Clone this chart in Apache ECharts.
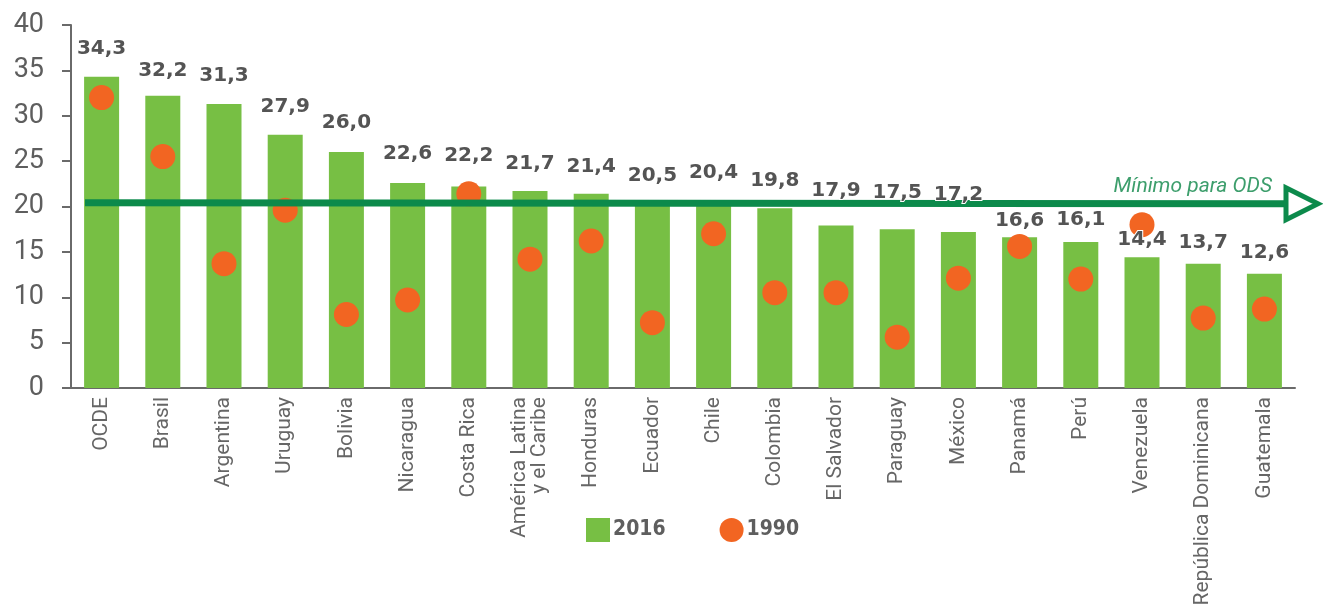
<!DOCTYPE html>
<html>
<head>
<meta charset="utf-8">
<script src="https://cdn.jsdelivr.net/npm/echarts@6/dist/echarts.min.js"></script>
<style>
html,body{margin:0;padding:0;background:#fff;}
#chart{width:1323px;height:611px;}
</style>
</head>
<body>
<div id="chart"></div>
<script>
const categories = ['OCDE','Brasil','Argentina','Uruguay','Bolivia','Nicaragua','Costa Rica','América Latina\ny el Caribe','Honduras','Ecuador','Chile','Colombia','El Salvador','Paraguay','México','Panamá','Perú','Venezuela','República Dominicana','Guatemala'];
const values2016 = [34.3,32.2,31.3,27.9,26.0,22.6,22.2,21.7,21.4,20.5,20.4,19.8,17.9,17.5,17.2,16.6,16.1,14.4,13.7,12.6];
const values1990 = [32.0,25.5,13.7,19.6,8.1,9.7,21.4,14.2,16.2,7.2,17.0,10.5,10.5,5.6,12.1,15.6,12.0,18.0,7.7,8.7];
const odsStart = 20.4, odsEnd = 20.3;
const odsLabel = 'Mínimo para ODS';
const yTicks = {min:0, max:40, interval:5};
// label lift above bar top (px, styling only)
const labelLift = [32,29,32,32,33,33,35,31,31,30,34,32,39,40,41,21,26,22,25,25];

const chart = echarts.init(document.getElementById('chart'), null, {renderer:'canvas'});
const green = '#77bf44', orange = '#f26522', axisGray = '#6a6a6a', textGray = '#5e5e5e';
const fmt = v => v.toFixed(1).replace('.',',');
chart.setOption({
  animation:false,
  grid:{left:71, right:28, top:25, bottom:223, containLabel:false},
  legend:{
    left:581, top:513, itemWidth:24, itemHeight:24, itemGap:54,
    textStyle:{fontFamily:'DejaVu Sans Condensed, DejaVu Sans', fontWeight:'bold', fontSize:21, color:textGray, padding:[0,0,0,-2]},
    data:[{name:'2016', icon:'rect'},{name:'1990', icon:'circle'}]
  },
  xAxis:{
    type:'category', data:categories,
    axisLine:{lineStyle:{color:axisGray, width:2}},
    axisTick:{show:false},
    axisLabel:{interval:0, rotate:90, margin:9, fontFamily:'Roboto', fontSize:21, color:'#666', lineHeight:20}
  },
  yAxis:{
    type:'value', min:yTicks.min, max:yTicks.max, interval:yTicks.interval,
    splitLine:{show:false},
    axisLine:{show:true, lineStyle:{color:axisGray, width:2}},
    axisTick:{show:true, length:9, lineStyle:{color:axisGray, width:2}},
    axisLabel:{margin:27, fontFamily:'Roboto', fontSize:27, color:textGray}
  },
  series:[
    {name:'2016', type:'bar', data:values2016, barWidth:35, itemStyle:{color:green}, z:2},
    {name:'1990', type:'scatter', data:values1990, symbolSize:25, itemStyle:{color:orange, opacity:1}, z:3},
    {name:'labels', type:'bar', barGap:'-100%', barWidth:35, silent:true, z:10,
     itemStyle:{color:'rgba(0,0,0,0)'},
     data:values2016.map((v,i)=>({value:v, label:{distance:labelLift[i]-14}})),
     label:{show:true, position:'top', formatter:p=>fmt(p.value),
       fontFamily:'DejaVu Sans', fontWeight:'bold', fontSize:20, color:'#545454', textBorderColor:'#fff', textBorderWidth:2}}
  ]
});

function drawOds(){
  const grid = chart.getModel().getComponent('grid').coordinateSystem.getRect();
  const y0 = chart.convertToPixel({yAxisIndex:0}, odsStart);
  const y1 = chart.convertToPixel({yAxisIndex:0}, odsEnd);
  const x0 = grid.x + 14;
  const tipX = grid.x + grid.width + 23;
  const baseX = tipX - 32;
  const ltc = '#0c8a4b';
  chart.setOption({graphic:[
    {type:'line', shape:{x1:x0, y1:y0, x2:baseX, y2:y1}, style:{stroke:ltc, lineWidth:7}, z:5},
    {type:'polygon', shape:{points:[[baseX, y1-16],[baseX, y1+16],[tipX, y1]]}, style:{fill:'#fff', stroke:ltc, lineWidth:5, lineJoin:'miter'}, z:5},
    {type:'text', x:baseX-14, y:y1-7, style:{text:odsLabel, fontFamily:'Roboto', fontStyle:'italic', fontSize:21, fill:'#3d9e6c', align:'right', verticalAlign:'bottom'}, z:5}
  ]});
}
drawOds();
</script>
</body>
</html>
